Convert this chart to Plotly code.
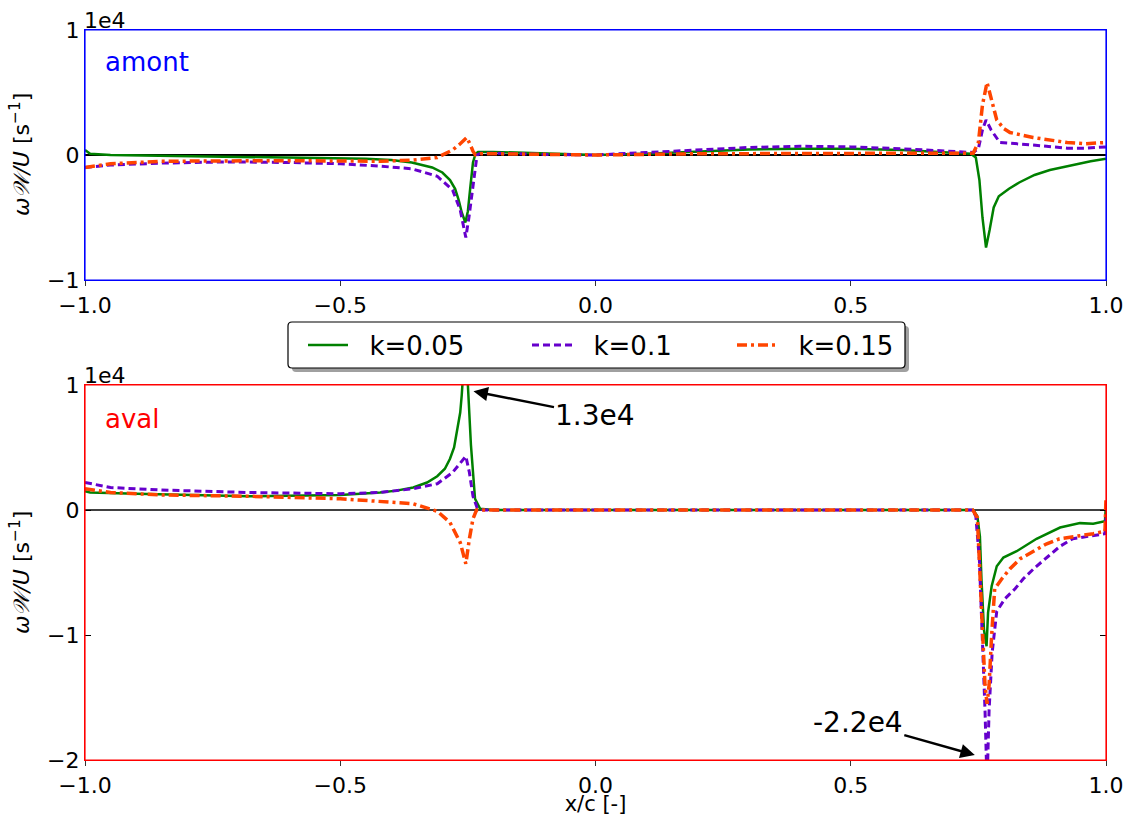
import plotly.graph_objects as go

# ---------------- data (values in units of 1e4 s^-1) ----------------
x_top_k005 = [-1.0, -0.99, -0.95, -0.8, -0.6, -0.45, -0.40, -0.36, -0.32, -0.30, -0.285, -0.275, -0.268,
              -0.262, -0.255, -0.25, -0.245, -0.24, -0.235, -0.23, -0.2, -0.1, 0.0, 0.1, 0.2, 0.3, 0.4,
              0.5, 0.6, 0.7, 0.735, 0.745, 0.752, 0.758, 0.765, 0.772, 0.78, 0.79, 0.81, 0.83, 0.86,
              0.89, 0.935, 0.97, 1.0]
y_top_k005 = [0.04, 0.01, 0.0, -0.01, -0.02, -0.03, -0.04, -0.06, -0.1, -0.14, -0.2, -0.27, -0.36,
              -0.46, -0.54, -0.45, -0.25, -0.06, 0.01, 0.025, 0.025, 0.01, 0.0, 0.01, 0.03, 0.045, 0.05,
              0.05, 0.04, 0.02, 0.01, -0.02, -0.2, -0.5, -0.74, -0.6, -0.42, -0.33, -0.27, -0.22, -0.16,
              -0.12, -0.08, -0.05, -0.03]

x_top_k01 = [-1.0, -0.95, -0.85, -0.72, -0.6, -0.5, -0.42, -0.36, -0.31, -0.28, -0.265, -0.258, -0.254,
             -0.248, -0.242, -0.236, -0.232, -0.225, -0.2, -0.1, 0.0, 0.1, 0.2, 0.3, 0.4, 0.5, 0.6, 0.7,
             0.74, 0.75, 0.758, 0.765, 0.775, 0.792, 0.83, 0.857, 0.924, 0.96, 1.0]
y_top_k01 = [-0.1, -0.08, -0.065, -0.055, -0.06, -0.07, -0.09, -0.11, -0.17, -0.28, -0.44, -0.6, -0.66,
             -0.5, -0.3, -0.1, 0.0, 0.015, 0.015, 0.005, 0.0, 0.02, 0.04, 0.06, 0.07, 0.065, 0.05, 0.03,
             0.02, 0.05, 0.2, 0.28, 0.2, 0.1, 0.085, 0.08, 0.055, 0.055, 0.065]

x_top_k015 = [-1.0, -0.95, -0.85, -0.6, -0.42, -0.357, -0.31, -0.28, -0.265, -0.252, -0.245, -0.24,
              -0.235, -0.225, -0.2, 0.0, 0.2, 0.5, 0.7, 0.74, 0.75, 0.758, 0.767, 0.775, 0.786, 0.8,
              0.812, 0.857, 0.924, 0.96, 1.0]
y_top_k015 = [-0.1, -0.07, -0.05, -0.045, -0.05, -0.04, -0.02, 0.04, 0.09, 0.14, 0.08, 0.03,
              0.0, 0.01, 0.01, 0.0, 0.01, 0.015, 0.015, 0.015, 0.1, 0.4, 0.58, 0.45, 0.28, 0.21,
              0.18, 0.14, 0.1, 0.09, 0.1]

x_bot_k005 = [-1.0, -0.99, -0.9, -0.68, -0.5, -0.422, -0.39, -0.357, -0.33, -0.31, -0.295, -0.285,
              -0.277, -0.27, -0.265, -0.262, -0.256, -0.25, -0.244, -0.236, -0.226, -0.2, 0.74, 0.748,
              0.753, 0.756, 0.761, 0.766, 0.769, 0.776, 0.786, 0.799, 0.825, 0.864, 0.91, 0.949,
              0.975, 0.998, 1.0]
y_bot_k005 = [0.15, 0.14, 0.13, 0.11, 0.12, 0.14, 0.155, 0.18, 0.22, 0.27, 0.33, 0.41,
              0.5, 0.65, 0.78, 0.92, 1.3, 1.0, 0.52, 0.09, 0.01, 0.0, 0.0, -0.05,
              -0.21, -0.55, -0.96, -1.09, -0.82, -0.61, -0.45, -0.38, -0.33, -0.23, -0.14, -0.105,
              -0.11, -0.09, 0.05]

x_bot_k01 = [-1.0, -0.95, -0.85, -0.68, -0.5, -0.422, -0.357, -0.31, -0.28, -0.254, -0.247, -0.24,
             -0.232, -0.22, 0.739, 0.745, 0.752, 0.758, 0.763, 0.767, 0.771, 0.777, 0.786, 0.802,
             0.822, 0.838, 0.861, 0.887, 0.91, 0.935, 0.969, 0.998, 1.0]
y_bot_k01 = [0.22, 0.18, 0.16, 0.14, 0.13, 0.14, 0.17, 0.21, 0.3, 0.43, 0.3, 0.11,
             0.02, 0.0, 0.0, -0.05, -0.4, -1.0, -1.6, -2.2, -1.6, -1.14, -0.81, -0.71,
             -0.63, -0.55, -0.46, -0.37, -0.29, -0.23, -0.21, -0.19, -0.05]

x_bot_k015 = [-1.0, -0.95, -0.85, -0.68, -0.5, -0.422, -0.357, -0.31, -0.285, -0.265, -0.254, -0.247,
              -0.24, -0.233, -0.2, 0.739, 0.748, 0.753, 0.758, 0.763, 0.767, 0.771, 0.776, 0.782,
              0.796, 0.812, 0.832, 0.857, 0.884, 0.909, 0.943, 0.975, 0.998, 1.0]
y_bot_k015 = [0.17, 0.14, 0.12, 0.11, 0.09, 0.07, 0.05, -0.01, -0.1, -0.26, -0.43, -0.23,
              -0.07, 0.0, 0.0, 0.0, -0.06, -0.5, -1.0, -1.4, -1.55, -1.4, -1.0, -0.63,
              -0.55, -0.47, -0.39, -0.33, -0.27, -0.23, -0.21, -0.19, -0.17, 0.1]

series_names = ["k=0.05", "k=0.1", "k=0.15"]
x_ticks = [-1.0, -0.5, 0.0, 0.5, 1.0]
x_ticktext = ["\u22121.0", "\u22120.5", "0.0", "0.5", "1.0"]
y_ticks_top = [-1, 0, 1]
y_ticktext_top = ["\u22121", "0", "1"]
y_ticks_bot = [-2, -1, 0, 1]
y_ticktext_bot = ["\u22122", "\u22121", "0", "1"]
peak_label = "1.3e4"
trough_label = "-2.2e4"

# ---------------- styling ----------------
FONT = "DejaVu Sans"
colors = ["#008000", "#6600cc", "#ff4500"]
dashes = ["solid", "7px,4px", "10px,4px,3px,4px"]
widths = [2.5, 3.0, 3.5]
legend_ids = ["legend", "legend2", "legend3"]

W, H = 1129, 816
ml, mr, mt, mb = 85, 23, 30, 56
pw, ph = W - ml - mr, H - mt - mb


def px_to_paper_x(px):
    return (px - ml) / pw


def px_to_paper_y(py):
    return (H - mb - py) / ph


fig = go.Figure()

top_data = [(x_top_k005, y_top_k005), (x_top_k01, y_top_k01), (x_top_k015, y_top_k015)]
bot_data = [(x_bot_k005, y_bot_k005), (x_bot_k01, y_bot_k01), (x_bot_k015, y_bot_k015)]

for i, (xs, ys) in enumerate(top_data):
    fig.add_trace(go.Scatter(x=xs, y=ys, mode="lines", name="\u00a0\u00a0" + series_names[i],
                             showlegend=True, legend=legend_ids[i],
                             line=dict(color=colors[i], width=widths[i], dash=dashes[i]),
                             xaxis="x", yaxis="y"))
for i, (xs, ys) in enumerate(bot_data):
    fig.add_trace(go.Scatter(x=xs, y=ys, mode="lines", name=series_names[i], showlegend=False,
                             line=dict(color=colors[i], width=widths[i], dash=dashes[i]),
                             xaxis="x2", yaxis="y2"))

top_dom = [px_to_paper_y(280), 1.0]
bot_dom = [0.0, px_to_paper_y(385)]

common_x = dict(range=[-1, 1], tickvals=x_ticks, ticktext=x_ticktext, ticks="outside", ticklen=5,
                tickcolor="#333333", tickwidth=1, showgrid=False, zeroline=False, showline=True,
                mirror=True, automargin=False, tickfont=dict(family=FONT, size=22, color="black"))
common_y = dict(ticks="inside", ticklen=6, tickcolor="black", tickwidth=1, showgrid=False, zeroline=False,
                showline=True, mirror="ticks", automargin=False,
                tickfont=dict(family=FONT, size=22, color="black"))

legend_common = dict(orientation="h", y=px_to_paper_y(345), yanchor="middle", bgcolor="rgba(0,0,0,0)",
                     borderwidth=0, font=dict(family=FONT, size=26, color="black"), itemwidth=40)
legend_line_starts = [304, 528, 733]

fig.update_layout(
    width=W, height=H,
    margin=dict(l=ml, r=mr, t=mt, b=mb, autoexpand=False),
    paper_bgcolor="white", plot_bgcolor="white",
    font=dict(family=FONT, color="black"),
    xaxis=dict(**common_x, domain=[0, 1], anchor="y", linecolor="#0000ff", linewidth=1.2),
    yaxis=dict(**common_y, domain=top_dom, anchor="x", range=[-1, 1], tickvals=y_ticks_top,
               ticktext=y_ticktext_top, linecolor="#0000ff", linewidth=1.2),
    xaxis2=dict(**common_x, domain=[0, 1], anchor="y2", linecolor="#ff0000", linewidth=1.2,
                title=dict(text="x/c [-]", font=dict(family=FONT, size=21), standoff=0)),
    yaxis2=dict(**common_y, domain=bot_dom, anchor="x2", range=[-2, 1], tickvals=y_ticks_bot,
                ticktext=y_ticktext_bot, linecolor="#ff0000", linewidth=1.2),
    legend=dict(**legend_common, x=px_to_paper_x(legend_line_starts[0] - 1), xanchor="left"),
    legend2=dict(**legend_common, x=px_to_paper_x(legend_line_starts[1] - 1), xanchor="left"),
    legend3=dict(**legend_common, x=px_to_paper_x(legend_line_starts[2] - 1), xanchor="left"),
)

shapes = []
shapes.append(dict(type="line", xref="x domain", yref="y", x0=0, x1=1, y0=0, y1=0,
                   line=dict(color="black", width=2.2), layer="below"))
shapes.append(dict(type="line", xref="x2 domain", yref="y2", x0=0, x1=1, y0=0, y1=0,
                   line=dict(color="black", width=1.6), layer="below"))
shapes.append(dict(type="rect", xref="x domain", yref="y domain", x0=0, x1=1, y0=0, y1=1,
                   line=dict(color="#0000ff", width=1.2), layer="above"))
shapes.append(dict(type="rect", xref="x2 domain", yref="y2 domain", x0=0, x1=1, y0=0, y1=1,
                   line=dict(color="#ff0000", width=1.2), layer="above"))


def rounded_rect(x0, y0, x1, y1, r):
    X = px_to_paper_x
    Y = px_to_paper_y
    rx = r / pw
    ry = r / ph
    a, b, c, d = X(x0), Y(y0), X(x1), Y(y1)
    return (f"M {a+rx},{b} L {c-rx},{b} Q {c},{b} {c},{b-ry} L {c},{d+ry} Q {c},{d} {c-rx},{d} "
            f"L {a+rx},{d} Q {a},{d} {a},{d+ry} L {a},{b-ry} Q {a},{b} {a+rx},{b} Z")


shapes.append(dict(type="path", xref="paper", yref="paper", path=rounded_rect(292, 326, 909, 372, 4),
                   fillcolor="#a0a0a0", line=dict(width=0), layer="above"))
shapes.append(dict(type="path", xref="paper", yref="paper", path=rounded_rect(288, 322, 905, 368, 4),
                   fillcolor="white", line=dict(color="black", width=1.2), layer="above"))
fig.update_layout(shapes=shapes)

ylabel = "<i>\u03c9\U0001D4B2/U</i> [s<sup>\u22121</sup>]"
annotations = [
    dict(text="1e4", xref="paper", yref="paper", x=0, y=1, xanchor="left", yanchor="bottom",
         showarrow=False, font=dict(family=FONT, size=22, color="black"), xshift=-3, yshift=-5),
    dict(text="1e4", xref="paper", yref="paper", x=0, y=bot_dom[1], xanchor="left", yanchor="bottom",
         showarrow=False, font=dict(family=FONT, size=22, color="black"), xshift=-3, yshift=-5),
    dict(text="amont", xref="paper", yref="paper", x=px_to_paper_x(103), y=px_to_paper_y(62),
         xanchor="left", yanchor="middle", showarrow=False, font=dict(family=FONT, size=26, color="#0000ff")),
    dict(text="aval", xref="paper", yref="paper", x=px_to_paper_x(103), y=px_to_paper_y(419),
         xanchor="left", yanchor="middle", showarrow=False, font=dict(family=FONT, size=26, color="#ff0000")),
    dict(text=ylabel, xref="paper", yref="paper", x=px_to_paper_x(20), y=px_to_paper_y(155),
         xanchor="center", yanchor="middle", textangle=-90, showarrow=False,
         font=dict(family=FONT, size=22, color="black")),
    dict(text=ylabel, xref="paper", yref="paper", x=px_to_paper_x(20), y=px_to_paper_y(573),
         xanchor="center", yanchor="middle", textangle=-90, showarrow=False,
         font=dict(family=FONT, size=22, color="black")),
    dict(text=peak_label, xref="x2", yref="y2", x=-0.239, y=0.95, ax=122, ay=24,
         showarrow=True, arrowhead=2, arrowsize=1.2, arrowwidth=2.4, arrowcolor="black",
         font=dict(family=FONT, size=28, color="black")),
    dict(text=trough_label, xref="x2", yref="y2", x=0.743, y=-1.96, ax=-117, ay=-33,
         showarrow=True, arrowhead=2, arrowsize=1.2, arrowwidth=2.4, arrowcolor="black",
         font=dict(family=FONT, size=28, color="black")),
]
fig.update_layout(annotations=annotations)

fig.write_html("out.html", config={"displayModeBar": False},
               post_script="document.body.style.margin='0px';document.body.style.padding='0px';")
